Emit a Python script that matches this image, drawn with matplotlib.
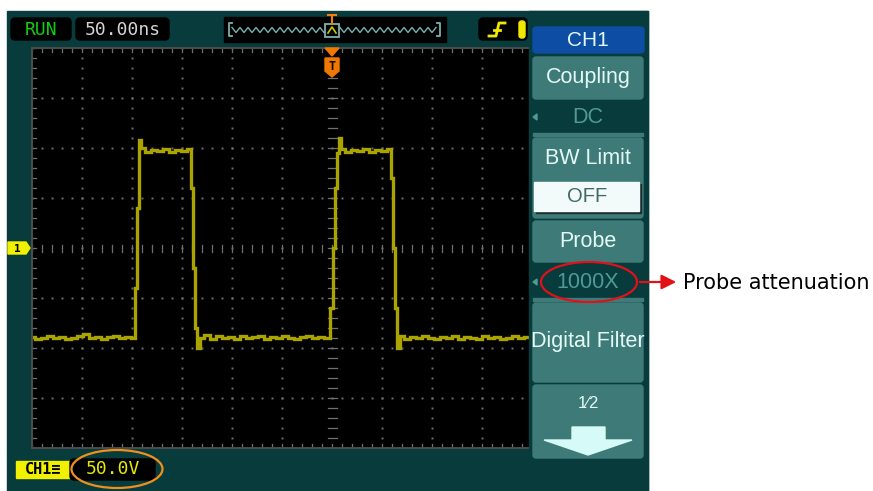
import numpy as np
import matplotlib
matplotlib.use('Agg')
import matplotlib.pyplot as plt
from matplotlib.patches import Rectangle, FancyBboxPatch, Ellipse, Polygon

# scope settings
time_div = 50      # ns / div
volt_div = 50      # V / div
time_base = '50.00ns'
ch1_scale = '50.0V'

# CH1 trace (time in ns, volts)
low1_t = [-300, -294, -288, -282, -276, -270, -264, -258, -252, -246, -240, -234, -228, -222, -216, -210, -204, -198]
low1_v = [-89, -91, -90, -88, -90, -89, -91, -90, -88, -86, -90, -89, -91, -89, -88, -90, -89, -90]
rise1_t = [-196, -194, -192]
rise1_v = [-40, 40, 108]
high1_t = [-190, -184, -178, -172, -166, -160, -154, -148, -142]
high1_v = [100, 96, 98, 97, 99, 96, 98, 97, 99]
fall1_t = [-140, -138, -136, -134]
fall1_v = [60, -20, -80, -100]
low2_t = [-131, -125, -119, -113, -107, -101, -95, -89, -83, -77, -71, -65, -59, -53, -47, -41, -35, -29, -23, -17, -11, -5]
low2_v = [-90, -87, -91, -88, -90, -89, -91, -88, -90, -89, -88, -91, -89, -90, -88, -90, -91, -89, -88, -90, -89, -90]
rise2_t = [0, 2, 4, 6, 8]
rise2_v = [-60, 0, 60, 95, 110]
high2_t = [10, 16, 22, 28, 34, 40, 46, 52, 58]
high2_v = [99, 96, 98, 97, 99, 96, 98, 97, 99]
fall2_t = [60, 62, 64, 66]
fall2_v = [70, 0, -60, -100]
low3_t = [69, 75, 81, 87, 93, 99, 105, 111, 117, 123, 129, 135, 141, 147, 153, 159, 165, 171, 177, 183, 189, 195]
low3_v = [-88, -91, -89, -90, -88, -90, -91, -89, -90, -88, -91, -89, -90, -91, -88, -90, -89, -91, -90, -88, -90, -89]

trace_t = low1_t + rise1_t + high1_t + fall1_t + low2_t + rise2_t + high2_t + fall2_t + low3_t
trace_v = low1_v + rise1_v + high1_v + fall1_v + low2_v + rise2_v + high2_v + fall2_v + low3_v

# side menu
menu_title = 'CH1'
menu_items = ['Coupling', 'BW Limit', 'Probe', 'Digital Filter']
menu_values = ['DC', 'OFF', '1000X', '']
callout_text = 'Probe attenuation'

teal = '#073b3c'
btn = '#3e7b78'
dim = '#4f9a95'
menu_txt = '#e4faf7'
trace_col = '#aaa300'
grid_col = '#707070'

fig = plt.figure(figsize=(8.73, 4.91), dpi=100)
fig.patch.set_facecolor('white')

bg = fig.add_axes([0, 0, 1, 1], zorder=0)
bg.set_xlim(0, 873)
bg.set_ylim(491, 0)
bg.axis('off')
bg.add_patch(Rectangle((7, 11), 641, 480, color=teal))

# scope screen, grid is 12 x 8 divisions at 50 px each
sc = fig.add_axes([32 / 873, (491 - 448) / 491, 600 / 873, 400 / 491], zorder=1)
sc.set_facecolor('black')
sc.set_xlim(-6 * time_div, 6 * time_div)
sc.set_ylim(-4 * volt_div, 4 * volt_div)
sc.set_xticks([])
sc.set_yticks([])
for s in sc.spines.values():
    s.set_color('#4a4a4a')
    s.set_linewidth(1.5)

xd = np.arange(-6, 7) * time_div
yd = np.arange(-4, 5) * volt_div
xs = np.arange(-300, 301, 10)
ys = np.arange(-200, 201, 10)
for y in yd[1:-1]:
    if y != 0:
        sc.plot(xs, np.full(len(xs), y), 's', ms=1.4, mew=0, color=grid_col)
for x in xd[1:-1]:
    if x != 0:
        sc.plot(np.full(len(ys), x), ys, 's', ms=1.4, mew=0, color=grid_col)
# center cross with ticks
for x in xs:
    sc.plot([x, x], [-3.5, 3.5], color=grid_col, lw=0.9)
    sc.plot([x, x], [200, 196], color=grid_col, lw=0.9)
    sc.plot([x, x], [-200, -196], color=grid_col, lw=0.9)
for y in ys:
    sc.plot([-4.5, 4.5], [y, y], color=grid_col, lw=0.9)
    sc.plot([-300, -296], [y, y], color=grid_col, lw=0.9)

sc.plot(trace_t, trace_v, color=trace_col, lw=2.4, drawstyle='steps-mid', solid_joinstyle='miter')

ov = fig.add_axes([0, 0, 1, 1], zorder=2)
ov.set_xlim(0, 873)
ov.set_ylim(491, 0)
ov.axis('off')
ov.patch.set_alpha(0)

# menu column
ov.add_patch(Rectangle((529, 11), 119, 480, color=teal))
menu_font = dict(family='Liberation Sans', ha='center', va='center')

ov.add_patch(FancyBboxPatch((533, 27), 111, 26, boxstyle='round,pad=0,rounding_size=3', color='#0d4da3'))
ov.text(588, 40.5, menu_title, color=menu_txt, fontsize=15, **menu_font)

# Coupling
ov.add_patch(FancyBboxPatch((533, 57), 110, 42, boxstyle='round,pad=0,rounding_size=3', color=btn))
ov.text(588, 77, menu_items[0], color=menu_txt, fontsize=15.5, **menu_font)
ov.text(588, 117, menu_values[0], color=dim, fontsize=15.5, **menu_font)
ov.add_patch(Polygon([[533, 117], [537, 114], [537, 120]], closed=True, color=dim))
ov.add_patch(Rectangle((533, 133), 110, 2.5, color=btn))

# BW Limit
ov.add_patch(FancyBboxPatch((533, 138), 110, 80, boxstyle='round,pad=0,rounding_size=3', color=btn))
ov.text(588, 158, menu_items[1], color=menu_txt, fontsize=15.5, **menu_font)
ov.add_patch(Rectangle((536, 184), 105, 29, color='#1b2e2d'))
ov.add_patch(Rectangle((534, 182), 105, 29, color='#f2fbf9'))
ov.text(587, 197, menu_values[1], color='#3f6a67', fontsize=14.5, **menu_font)

# Probe
ov.add_patch(FancyBboxPatch((533, 221), 110, 41, boxstyle='round,pad=0,rounding_size=3', color=btn))
ov.text(588, 241, menu_items[2], color=menu_txt, fontsize=15.5, **menu_font)
ov.text(588, 282, menu_values[2], color=dim, fontsize=15.5, **menu_font)
ov.add_patch(Polygon([[533, 282], [537, 279], [537, 285]], closed=True, color=dim))
ov.add_patch(Rectangle((533, 298), 110, 2.5, color=btn))

# Digital Filter
ov.add_patch(FancyBboxPatch((533, 303), 110, 79, boxstyle='round,pad=0,rounding_size=3', color=btn))
ov.text(588, 342, menu_items[3], color=menu_txt, fontsize=15.5, **menu_font)

# page 1/2
ov.add_patch(FancyBboxPatch((533, 385), 110, 73, boxstyle='round,pad=0,rounding_size=3', color=btn))
ov.text(588, 403, '1\u22152', color=menu_txt, fontsize=12, **menu_font)
ov.add_patch(Polygon([[572, 427], [605, 427], [605, 440], [632, 440], [588, 455],
                      [544, 440], [572, 440]], closed=True, color='#d6faf7'))

# callout
ov.add_patch(Ellipse((589, 282), 96, 40, fill=False, edgecolor='#e3101a', lw=1.6))
ov.annotate('', xy=(679, 282), xytext=(637, 282),
            arrowprops=dict(arrowstyle='-|>', color='#e3101a', lw=1.6, mutation_scale=22))
ov.text(683, 283, callout_text, color='black', fontsize=15, family='DejaVu Sans', ha='left', va='center')

# top status bar
mono = dict(family='DejaVu Sans Mono', ha='center', va='center')
ov.add_patch(FancyBboxPatch((11, 18), 60, 22, boxstyle='round,pad=0,rounding_size=4', color='black'))
ov.text(41, 29.5, 'RUN', color='#12cc12', fontsize=13, **mono)
ov.add_patch(FancyBboxPatch((76, 18), 93, 22, boxstyle='round,pad=0,rounding_size=4', color='black'))
ov.text(122.5, 29.5, time_base, color='#d4d4d4', fontsize=13, **mono)

ov.add_patch(Rectangle((224, 17), 222, 25, color='black'))
mem_col = '#7eb0b0'
ov.plot([232, 229, 229, 232], [23, 23, 36, 36], color=mem_col, lw=1.3)
ov.plot([437, 440, 440, 437], [23, 23, 36, 36], color=mem_col, lw=1.3)
zx = np.arange(232, 325, 4)
ov.plot(zx, 30 + np.tile([-2.5, 2.5], len(zx))[:len(zx)], color=mem_col, lw=1)
zx = np.arange(340, 437, 4)
ov.plot(zx, 30 + np.tile([-2.5, 2.5], len(zx))[:len(zx)], color=mem_col, lw=1)
ov.add_patch(Rectangle((325, 24), 14, 13, fill=False, edgecolor=mem_col, lw=1.3))
ov.plot([328, 332, 336], [33, 27, 33], color='#c8c800', lw=1.2)
ov.plot([332, 332], [15, 24], color='#f08010', lw=1.5)
ov.plot([328, 336], [15, 15], color='#f08010', lw=1.5)

ov.add_patch(FancyBboxPatch((479, 18), 48, 22, boxstyle='round,pad=0,rounding_size=4', color='black'))
ov.plot([489, 496, 499, 505], [36, 36, 23, 23], color='#f0e800', lw=2)
ov.plot([494, 500], [30, 30], color='#f0e800', lw=2)
ov.add_patch(FancyBboxPatch((519, 21), 6, 17, boxstyle='round,pad=0,rounding_size=2.5', color='#f0e800'))

# trigger position marker
ov.add_patch(Polygon([[325, 48], [339, 48], [332, 56]], closed=True, color='#f07800'))
ov.add_patch(Polygon([[325, 58], [339, 58], [339, 71], [332, 77], [325, 71]], closed=True, color='#f07800'))
ov.text(332, 66, 'T', color='black', fontsize=8.5, fontweight='bold', **mono)

# channel 1 ground marker
ov.add_patch(Polygon([[8, 242], [26, 242], [30, 248], [26, 254], [8, 254]], closed=True, color='#f0f000'))
ov.text(17, 248.5, '1', color='black', fontsize=8, fontweight='bold', **mono)

# bottom channel info
ov.add_patch(Rectangle((16, 461), 54, 17, color='#f0f000'))
ov.text(43, 469.5, 'CH1\u2261', color='black', fontsize=11, fontweight='bold', **mono)
ov.add_patch(FancyBboxPatch((70, 459), 85, 21, boxstyle='round,pad=0,rounding_size=4', color='black'))
ov.text(113, 469.5, ch1_scale, color='#e8e800', fontsize=13, **mono)
ov.add_patch(Ellipse((117, 469), 91, 38, fill=False, edgecolor='#f0901c', lw=1.6))

fig.savefig('out.png', dpi=100)
